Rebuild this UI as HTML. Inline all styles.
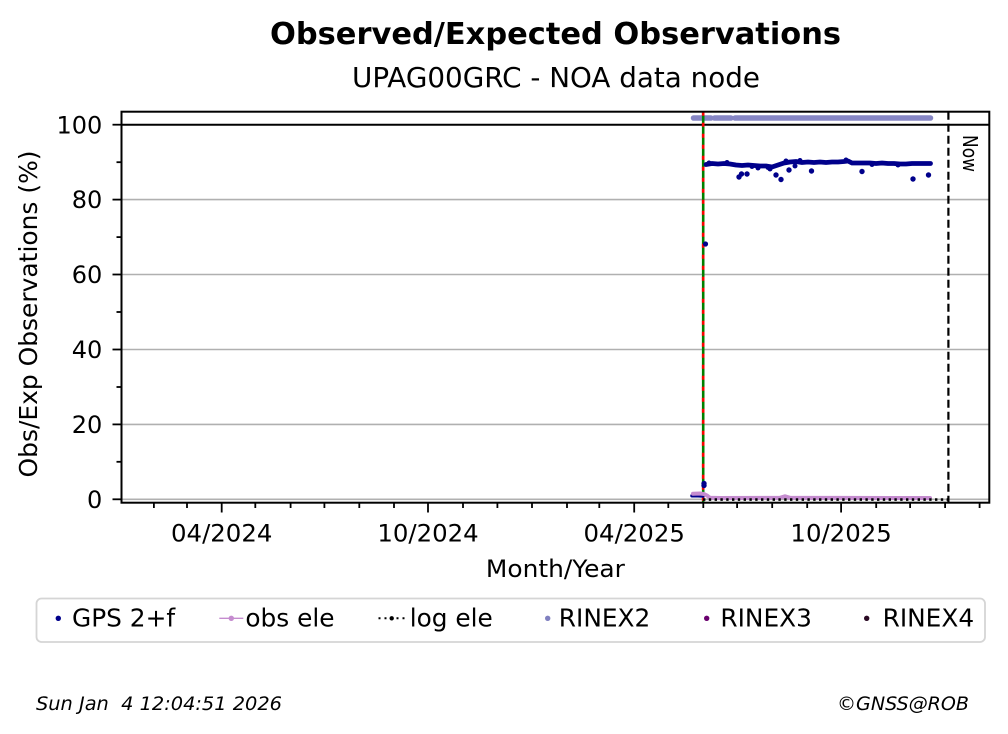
<!DOCTYPE html>
<html><head><meta charset="utf-8"><style>
html,body{margin:0;padding:0;background:#fff;}
svg{display:block;font-family:"DejaVu Sans","Liberation Sans",sans-serif;}
text{white-space:pre;}
</style></head><body>
<svg width="1008" height="734" viewBox="0 0 1008 734" xmlns="http://www.w3.org/2000/svg">
<rect x="0" y="0" width="1008" height="734" fill="#fff"/>
<!-- titles -->
<text x="555.5" y="44" font-size="30" font-weight="bold" text-anchor="middle" textLength="571" lengthAdjust="spacingAndGlyphs">Observed/Expected Observations</text>
<text x="556" y="87" font-size="27.5" text-anchor="middle" textLength="408" lengthAdjust="spacingAndGlyphs">UPAG00GRC - NOA data node</text>

<!-- grid -->
<g stroke="#b0b0b0" stroke-width="1.6">
<line x1="121.5" x2="989.3" y1="499.3" y2="499.3"/>
<line x1="121.5" x2="989.3" y1="424.4" y2="424.4"/>
<line x1="121.5" x2="989.3" y1="349.5" y2="349.5"/>
<line x1="121.5" x2="989.3" y1="274.5" y2="274.5"/>
<line x1="121.5" x2="989.3" y1="199.6" y2="199.6"/>
</g>
<line x1="121.5" x2="989.3" y1="124.7" y2="124.7" stroke="#000" stroke-width="2"/>

<!-- RINEX2 -->
<g stroke="#8585c4" stroke-width="5.5" stroke-linecap="round" fill="none">
<line x1="693.5" x2="711" y1="118" y2="118"/>
<line x1="714.5" x2="731" y1="118" y2="118"/>
<line x1="735" x2="930.5" y1="118" y2="118"/>
</g>

<!-- green/red vertical line -->
<line x1="703.2" x2="703.2" y1="111.7" y2="502.7" stroke="#008000" stroke-width="2.6"/>
<line x1="703.2" x2="703.2" y1="111.7" y2="502.7" stroke="#ff0000" stroke-width="2.6" stroke-dasharray="4 7"/>

<!-- obs ele + low GPS -->
<polyline points="692,495.8 698,495.8 703,496" fill="none" stroke="#00008b" stroke-width="3.5" stroke-linecap="round"/>
<polyline points="693,493.8 700,493.5 704,494 707,495.5 710,497.8 720,498 780,497.8 785,496.3 790,497.8 930,498" fill="none" stroke="#c58ccf" stroke-width="4" stroke-linecap="round" stroke-linejoin="round"/>

<!-- log ele -->
<line x1="703" x2="948" y1="499.6" y2="499.6" stroke="#000" stroke-width="2.6" stroke-dasharray="2.4 3.4"/>

<!-- GPS 2+f -->
<polyline points="706,164.5 712,163.5 718,164 724,163.5 730,164 736,165 742,165.5 748,165 754,165.5 760,166 766,166 772,167 778,165 784,163 790,162 796,161.5 802,162.5 808,162 814,162.5 820,162 826,162.5 832,162 838,162 844,161.5 848,161 852,163 858,163 864,163 870,163 876,163.5 882,163 888,163.5 894,163.5 900,164 906,164 912,163.5 918,163.5 924,163.5 930.5,163.5" fill="none" stroke="#00008b" stroke-width="4.8" stroke-linecap="round" stroke-linejoin="round"/>
<g fill="#00008b">
<circle cx="709" cy="163" r="2.5"/>
<circle cx="727" cy="162.5" r="2.5"/>
<circle cx="752" cy="166.5" r="2.5"/>
<circle cx="768" cy="167.5" r="2.5"/>
<circle cx="786" cy="161" r="2.5"/>
<circle cx="800" cy="160.5" r="2.5"/>
<circle cx="846" cy="160" r="2.5"/>
<circle cx="872" cy="164.5" r="2.5"/>
<circle cx="898" cy="165" r="2.5"/>
<circle cx="705.5" cy="244" r="2.6"/>
<circle cx="704" cy="483.5" r="2.7"/>
<circle cx="704" cy="485.5" r="2.7"/>
<circle cx="739" cy="177" r="2.7"/>
<circle cx="741.5" cy="174" r="2.7"/>
<circle cx="747" cy="174" r="2.7"/>
<circle cx="758" cy="168" r="2.5"/>
<circle cx="770" cy="169" r="2.5"/>
<circle cx="776" cy="175" r="2.7"/>
<circle cx="781" cy="179.5" r="2.7"/>
<circle cx="789" cy="170" r="2.7"/>
<circle cx="795" cy="166" r="2.5"/>
<circle cx="811.5" cy="171" r="2.7"/>
<circle cx="862" cy="171.5" r="2.7"/>
<circle cx="913" cy="179" r="2.7"/>
<circle cx="928.5" cy="175" r="2.7"/>
</g>

<!-- Now line -->
<line x1="948.4" x2="948.4" y1="111.7" y2="502.7" stroke="#000" stroke-width="2.2" stroke-dasharray="8 4"/>
<text x="963" y="135" font-size="20" transform="rotate(90 963 135)" textLength="37" lengthAdjust="spacingAndGlyphs">Now</text>

<!-- axes frame -->
<rect x="121.5" y="111.7" width="867.8" height="391" fill="none" stroke="#000" stroke-width="2"/>

<!-- y ticks -->
<g stroke="#000" stroke-width="1.8">
<line x1="112.5" x2="121.5" y1="499.3" y2="499.3"/>
<line x1="112.5" x2="121.5" y1="424.4" y2="424.4"/>
<line x1="112.5" x2="121.5" y1="349.5" y2="349.5"/>
<line x1="112.5" x2="121.5" y1="274.5" y2="274.5"/>
<line x1="112.5" x2="121.5" y1="199.6" y2="199.6"/>
<line x1="112.5" x2="121.5" y1="124.7" y2="124.7"/>
<line x1="116.5" x2="121.5" y1="461.8" y2="461.8"/>
<line x1="116.5" x2="121.5" y1="387" y2="387"/>
<line x1="116.5" x2="121.5" y1="312" y2="312"/>
<line x1="116.5" x2="121.5" y1="237.1" y2="237.1"/>
<line x1="116.5" x2="121.5" y1="162.2" y2="162.2"/>
</g>
<g font-size="24" text-anchor="end">
<text x="102.3" y="507.9">0</text>
<text x="102.3" y="433">20</text>
<text x="102.3" y="358.1">40</text>
<text x="102.3" y="283.1">60</text>
<text x="102.3" y="208.2">80</text>
<text x="102.3" y="133.3">100</text>
</g>

<!-- x ticks -->
<g stroke="#000" stroke-width="1.8">
<line x1="221.7" x2="221.7" y1="502.7" y2="512.5"/>
<line x1="428" x2="428" y1="502.7" y2="512.5"/>
<line x1="634.2" x2="634.2" y1="502.7" y2="512.5"/>
<line x1="841.1" x2="841.1" y1="502.7" y2="512.5"/>
<line x1="153.9" x2="153.9" y1="502.7" y2="508"/>
<line x1="187" x2="187" y1="502.7" y2="508"/>
<line x1="255.3" x2="255.3" y1="502.7" y2="508"/>
<line x1="290.6" x2="290.6" y1="502.7" y2="508"/>
<line x1="324.4" x2="324.4" y1="502.7" y2="508"/>
<line x1="359.3" x2="359.3" y1="502.7" y2="508"/>
<line x1="394" x2="394" y1="502.7" y2="508"/>
<line x1="463" x2="463" y1="502.7" y2="508"/>
<line x1="497.4" x2="497.4" y1="502.7" y2="508"/>
<line x1="532" x2="532" y1="502.7" y2="508"/>
<line x1="567" x2="567" y1="502.7" y2="508"/>
<line x1="599.3" x2="599.3" y1="502.7" y2="508"/>
<line x1="668.3" x2="668.3" y1="502.7" y2="508"/>
<line x1="703.3" x2="703.3" y1="502.7" y2="508"/>
<line x1="737.1" x2="737.1" y1="502.7" y2="508"/>
<line x1="772.2" x2="772.2" y1="502.7" y2="508"/>
<line x1="807.2" x2="807.2" y1="502.7" y2="508"/>
<line x1="876.2" x2="876.2" y1="502.7" y2="508"/>
<line x1="910.1" x2="910.1" y1="502.7" y2="508"/>
<line x1="945.1" x2="945.1" y1="502.7" y2="508"/>
<line x1="979.6" x2="979.6" y1="502.7" y2="508"/>
</g>
<g font-size="24.4" text-anchor="middle">
<text x="221.7" y="541.5">04/2024</text>
<text x="428" y="541.5">10/2024</text>
<text x="634.2" y="541.5">04/2025</text>
<text x="841.1" y="541.5">10/2025</text>
</g>
<text x="555.4" y="577" font-size="24.4" text-anchor="middle" textLength="139" lengthAdjust="spacingAndGlyphs">Month/Year</text>
<text x="37" y="314" font-size="24.8" text-anchor="middle" transform="rotate(-90 37 314)" textLength="327" lengthAdjust="spacingAndGlyphs">Obs/Exp Observations (%)</text>

<!-- legend -->
<rect x="36.5" y="598.5" width="948.5" height="43.5" rx="5" ry="5" fill="#fff" stroke="#d5d5d5" stroke-width="1.8"/>
<circle cx="58.3" cy="618.3" r="2.7" fill="#00008b"/>
<line x1="219.3" x2="243.3" y1="618.3" y2="618.3" stroke="#c58ccf" stroke-width="1.3"/>
<circle cx="231.3" cy="618.3" r="2.7" fill="#c58ccf"/>
<line x1="378.5" x2="406" y1="618.3" y2="618.3" stroke="#000" stroke-width="2" stroke-dasharray="2 4"/>
<circle cx="391.7" cy="618.3" r="2.2" fill="#000"/>
<circle cx="547.7" cy="618.3" r="2.7" fill="#8080c0"/>
<circle cx="706.7" cy="618.3" r="2.7" fill="#6a006e"/>
<circle cx="866.7" cy="618.3" r="2.7" fill="#2b0a24"/>
<g font-size="24.8">
<text x="72" y="626.5">GPS 2+f</text>
<text x="245.4" y="626.5">obs ele</text>
<text x="409.7" y="626.5">log ele</text>
<text x="558.8" y="626.5">RINEX2</text>
<text x="720.4" y="626.5">RINEX3</text>
<text x="882.6" y="626.5">RINEX4</text>
</g>

<!-- footer -->
<text x="36" y="710" font-size="19" font-style="italic" textLength="246" lengthAdjust="spacingAndGlyphs">Sun Jan  4 12:04:51 2026</text>
<text x="969" y="710" font-size="19" font-style="italic" text-anchor="end" textLength="132" lengthAdjust="spacingAndGlyphs">©GNSS@ROB</text>
</svg>
</body></html>
